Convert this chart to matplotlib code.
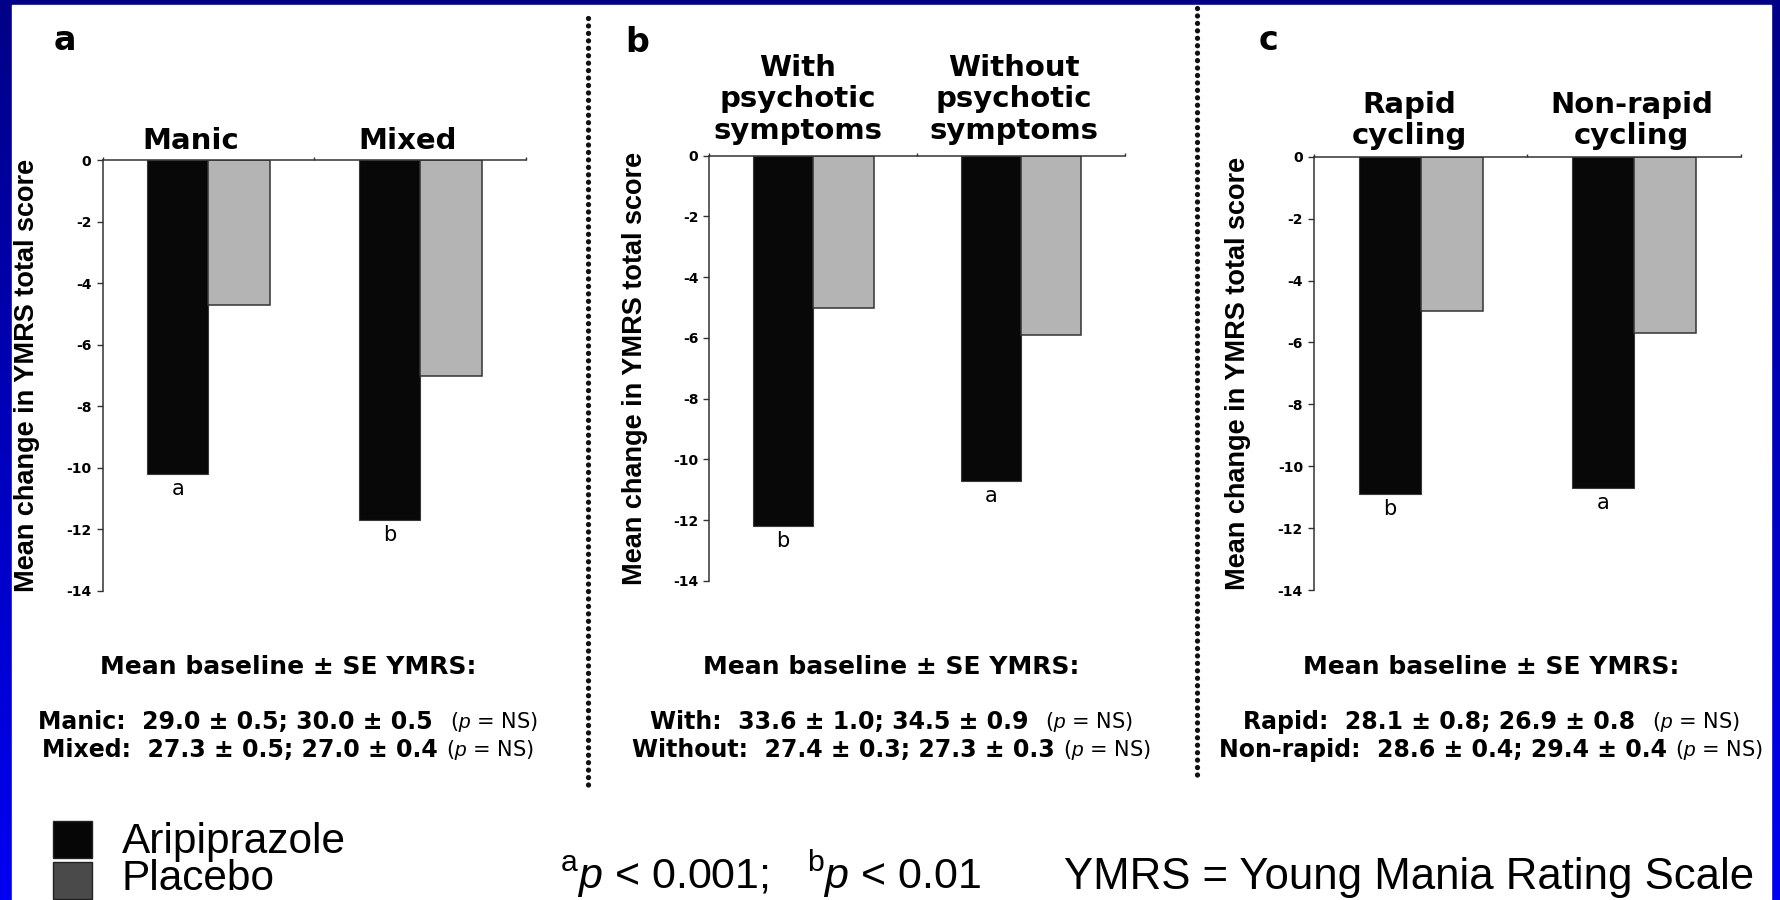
import matplotlib
matplotlib.use('Agg')
import matplotlib.pyplot as plt
import numpy as np
from matplotlib import font_manager
from matplotlib.patches import Rectangle
from matplotlib.offsetbox import TextArea, HPacker, AnnotationBbox

######################## data ########################
panel_letters = ['a', 'b', 'c']
categories = [['Manic', 'Mixed'],
              ['With\npsychotic\nsymptoms', 'Without\npsychotic\nsymptoms'],
              ['Rapid\ncycling', 'Non-rapid\ncycling']]
aripiprazole = [[-10.2, -11.7], [-12.2, -10.7], [-10.9, -10.7]]
placebo = [[-4.7, -7.0], [-5.0, -5.9], [-5.0, -5.7]]
sig_marks = [['a', 'b'], ['b', 'a'], ['b', 'a']]
y_ticks = [0, -2, -4, -6, -8, -10, -12, -14]
y_label = 'Mean change in YMRS total score'

baseline_title = 'Mean baseline \u00b1 SE YMRS:'
baseline_lines = [['Manic:  29.0 \u00b1 0.5; 30.0 \u00b1 0.5', 'Mixed:  27.3 \u00b1 0.5; 27.0 \u00b1 0.4'],
                  ['With:  33.6 \u00b1 1.0; 34.5 \u00b1 0.9', 'Without:  27.4 \u00b1 0.3; 27.3 \u00b1 0.3'],
                  ['Rapid:  28.1 \u00b1 0.8; 26.9 \u00b1 0.8', 'Non-rapid:  28.6 \u00b1 0.4; 29.4 \u00b1 0.4']]
baseline_p = r'($\mathit{p}$ = NS)'

legend_labels = ['Aripiprazole', 'Placebo']
footnote_p = r'$^{\mathrm{a}}\mathit{p}$ < 0.001;   $^{\mathrm{b}}\mathit{p}$ < 0.01'
footnote_abbr = 'YMRS = Young Mania Rating Scale'

######################## layout (pixels) ########################
W, H = 1781, 900
panel_boxes = [(102.6, 160, 526, 591), (709.4, 155.7, 1125, 581), (1314, 156.7, 1740.6, 590)]
label_x = [[0.418, 1.44], [0.426, 1.464], [0.448, 1.489]]
label_gap = [3.6, 7.7, 4.8]
letter_pos = [(65, 50), (637, 51.5), (1269, 50)]
divider_x = [(588.5, 18, 787), (1197, 8, 777)]
caption_x = [288, 891, 1491]

plt.rcParams['axes.unicode_minus'] = False
plt.rcParams['mathtext.fontset'] = 'custom'
plt.rcParams['mathtext.rm'] = 'Liberation Sans'
plt.rcParams['mathtext.it'] = 'Liberation Sans:italic'
plt.rcParams['mathtext.bf'] = 'Liberation Sans:bold'
plt.rcParams['font.family'] = 'DejaVu Sans'

avail = {f.name for f in font_manager.fontManager.ttflist}
if 'Liberation Sans Narrow' in avail:
    ylab_font = dict(family='Liberation Sans Narrow', fontsize=23.5)
else:
    ylab_font = dict(family='Liberation Sans', fontsize=19.5)

fig = plt.figure(figsize=(W / 100, H / 100), dpi=100)

# background: blue slide with white area
bg = fig.add_axes([0, 0, 1, 1], zorder=0)
bg.set_xlim(0, W)
bg.set_ylim(H, 0)
bg.axis('off')
grad = np.linspace(0, 1, 256).reshape(-1, 1)
cmap = matplotlib.colors.LinearSegmentedColormap.from_list('slide', ['#000088', '#0000f2'])
bg.imshow(grad, cmap=cmap, extent=[0, W, H, 0], aspect='auto', zorder=0)
bg.add_patch(Rectangle((12, 5), 1771 - 12, H - 5, color='white', zorder=1))

for x, y0, y1 in divider_x:
    bg.plot([x, x], [y0, y1], color='#111111', lw=3.8, linestyle=(0, (0.01, 1.4)),
            dash_capstyle='round', zorder=2)

x = np.array([0.5, 1.5])
for i in range(3):
    l, t, r, b = panel_boxes[i]
    ax = fig.add_axes([l / W, 1 - b / H, (r - l) / W, (b - t) / H], zorder=2)
    ax.set_facecolor('none')
    ax.bar(x - 0.145, aripiprazole[i], width=0.29, color='#080808', edgecolor='#3a3a3a', lw=0.8)
    ax.bar(x + 0.145, placebo[i], width=0.29, color='#b4b4b4', edgecolor='#333333', lw=1.1)
    ax.set_xlim(0, 2)
    ax.set_ylim(-14, 0)
    for s in ['right', 'bottom']:
        ax.spines[s].set_visible(False)
    for s in ['left', 'top']:
        ax.spines[s].set_color('#333333')
        ax.spines[s].set_linewidth(1.1)
    ax.xaxis.tick_top()
    ax.set_xticks([0, 1, 2])
    ax.set_xticklabels([])
    ax.tick_params(axis='x', length=2.5, width=1, color='#333333')
    ax.set_yticks(y_ticks)
    ax.set_yticklabels([str(v) for v in y_ticks], fontsize=10, fontweight='bold')
    ax.tick_params(axis='y', length=4, width=1, color='#333333', pad=4)
    ax.text(-0.178, 0.5, y_label, transform=ax.transAxes, rotation=90,
            ha='center', va='center', fontweight='bold', **ylab_font)

    for j in range(2):
        ax.annotate(categories[i][j], xy=(label_x[i][j], 0), xytext=(0, label_gap[i]),
                    textcoords='offset points', ha='center', va='bottom',
                    multialignment='center', linespacing=1.16, fontsize=21,
                    fontweight='bold', annotation_clip=False)
        ax.annotate(sig_marks[i][j], xy=(x[j] - 0.145, aripiprazole[i][j]), xytext=(0, -15),
                    textcoords='offset points', ha='center', va='baseline', fontsize=15)

    bg.text(letter_pos[i][0], letter_pos[i][1], panel_letters[i], ha='center',
            va='baseline', fontsize=24, fontweight='bold', zorder=3)

    # baseline captions
    bg.text(caption_x[i], 667, baseline_title, ha='center', va='center',
            fontsize=18, fontweight='bold', zorder=3)
    for k, yy in enumerate([722, 750]):
        parts = [TextArea(baseline_lines[i][k], textprops=dict(fontsize=17, fontweight='bold')),
                 TextArea(baseline_p, textprops=dict(fontsize=15))]
        box = HPacker(children=parts, align='baseline', pad=0, sep=12 if k == 0 else 6)
        ab = AnnotationBbox(box, (caption_x[i], yy), xycoords='data', frameon=False,
                            box_alignment=(0.5, 0.5), pad=0, zorder=3)
        bg.add_artist(ab)

# legend key
legend_colors = ['#060606', '#4a4a4a']
for k, yy in enumerate([821, 862]):
    bg.add_patch(Rectangle((53, yy), 39, 37, facecolor=legend_colors[k],
                           edgecolor='#222222', lw=1, zorder=3))
    bg.text(122, [853, 890][k], legend_labels[k], ha='left', va='baseline',
            fontsize=30.5, family='Liberation Sans', zorder=3)

bg.text(560, 889, footnote_p, ha='left', va='baseline', fontsize=31,
        family='Liberation Sans', zorder=3)
bg.text(1064, 889, footnote_abbr, ha='left', va='baseline', fontsize=31.5,
        family='Liberation Sans', zorder=3)

plt.savefig('out.png', dpi=100)
plt.close()
